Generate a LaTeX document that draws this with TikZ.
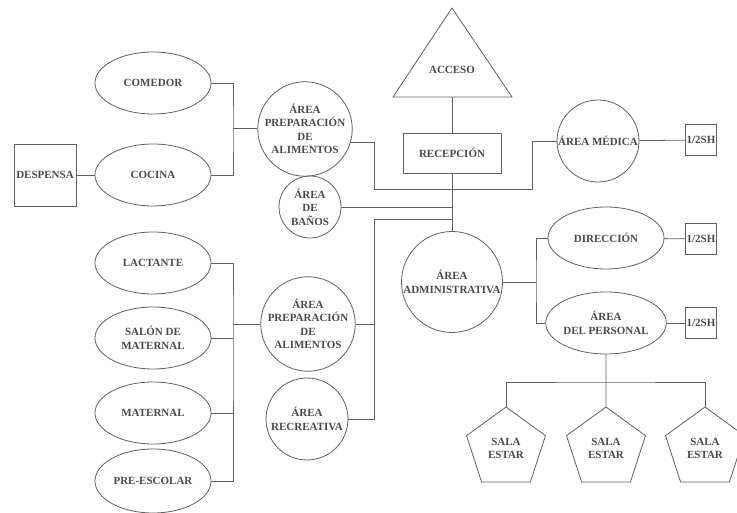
\documentclass[tikz,border=0pt]{standalone}
\usepackage{fontspec}
\setmainfont{Liberation Serif}
\usepackage{tikz}
\usetikzlibrary{shapes.geometric}
\definecolor{linegray}{HTML}{606060}
\definecolor{textgray}{HTML}{4A4A4A}

\begin{document}
\begin{tikzpicture}[x=1pt,y=-1pt,
		every node/.style={font=\fontsize{11}{13.5}\selectfont\bfseries,text=textgray,align=center,inner sep=0pt},
		zone/.style={draw=linegray,line width=0.8pt,ellipse,minimum width=116pt,minimum height=62pt},
		area/.style={draw=linegray,line width=0.8pt,circle,minimum size=#1},
		room/.style={draw=linegray,line width=0.8pt,rectangle,minimum width=#1,minimum height=#1},
		sala/.style={draw=linegray,line width=0.8pt,regular polygon,regular polygon sides=5,minimum size=83pt},
		link/.style={draw=linegray,line width=0.8pt}]
		\useasboundingbox (0,0) rectangle (737,513);
		% left side
		\node[room=62pt] (despensa) at (45,175) {DESPENSA};
		\node[zone] (comedor) at (153,83) {COMEDOR};
		\node[zone] (cocina) at (153,175) {COCINA};
		\node[area=84pt] (prep1) at (305,129) {ÁREA\\PREPARACIÓN\\DE\\ALIMENTOS};
		\node[area=62pt] (banos) at (310,207) {ÁREA\\DE\\BAÑOS};
		\node[zone] (lactante) at (153,263) {LACTANTE};
		\node[zone] (salon) at (153,338) {SALÓN DE\\MATERNAL};
		\node[zone] (maternal) at (153,413) {MATERNAL};
		\node[zone,minimum height=64pt] (preescolar) at (153,481) {PRE-ESCOLAR};
		\node[area=82pt] (prep2) at (308,324) {ÁREA\\PREPARACIÓN\\DE\\ALIMENTOS};
		\node[area=82pt] (recreativa) at (307,419) {ÁREA\\RECREATIVA};
		% center
		\draw[link] (393,97) -- (452,8) -- (512,97) -- cycle;
		\node (acceso) at (452,70) {ACCESO};
		\coordinate (accesobase) at (452,97);
		\node[draw=linegray,line width=0.8pt,minimum width=98pt,minimum height=40pt] (recepcion) at (452,153) {RECEPCIÓN};
		\node[area=101pt] (admin) at (452,282) {ÁREA\\ADMINISTRATIVA};
		% right side
		\node[area=82pt] (medica) at (598,141) {ÁREA MÉDICA};
		\node[room=31pt] (sh1) at (701,140) {1/2SH};
		\node[zone] (direccion) at (606,238) {DIRECCIÓN};
		\node[room=31pt] (sh2) at (701,239) {1/2SH};
		\node[zone] (personal) at (606,323) {ÁREA\\DEL PERSONAL};
		\node[room=31pt] (sh3) at (701,323) {1/2SH};
		\node[sala] (sala1) at (506,448.5) {SALA\\ESTAR};
		\node[sala] (sala2) at (606,448.5) {SALA\\ESTAR};
		\node[sala] (sala3) at (705,448.5) {SALA\\ESTAR};
		% junctions
		\coordinate (j1) at (233,128);
		\coordinate (j2) at (233,324);
		\coordinate (j3) at (536,282);
		\coordinate (j4) at (606,382);
		\coordinate (c1) at (374,189);
		\coordinate (c2) at (532,189);
		\coordinate (c3) at (374,219);
		% connectors
		\draw[link] (despensa) -- (cocina);
		\draw[link] (comedor.east) -| (j1) |- (cocina.east);
		\draw[link] (j1) -- (prep1.west |- j1);
		\draw[link] (accesobase) -- (recepcion.north);
		\draw[link] (recepcion.south) -- (admin.north);
		\draw[link] (prep1.-16) -| (c1) -- (c2) |- (medica.west);
		\draw[link] (medica) -- (sh1);
		\draw[link] (banos.east) -- (banos.east -| admin.north);
		\draw[link] (c3 -| admin.north) -- (c3) |- (recreativa.east);
		\draw[link] (prep2.east) -- (prep2.east -| c3);
		\draw[link] (lactante.east) -| (j2) |- (preescolar.east);
		\draw[link] (salon.east) -- (salon.east -| j2);
		\draw[link] (maternal.east) -- (maternal.east -| j2);
		\draw[link] (j2) -- (prep2.west);
		\draw[link] (admin.east) -- (j3);
		\draw[link] (direccion.west) -| (j3) |- (personal.west);
		\draw[link] (direccion) -- (sh2);
		\draw[link] (personal) -- (sh3);
		\draw[link] (personal.south) -- (sala2.north);
		\draw[link] (sala1.north) |- (j4) -| (sala3.north);
\end{tikzpicture}
\end{document}
